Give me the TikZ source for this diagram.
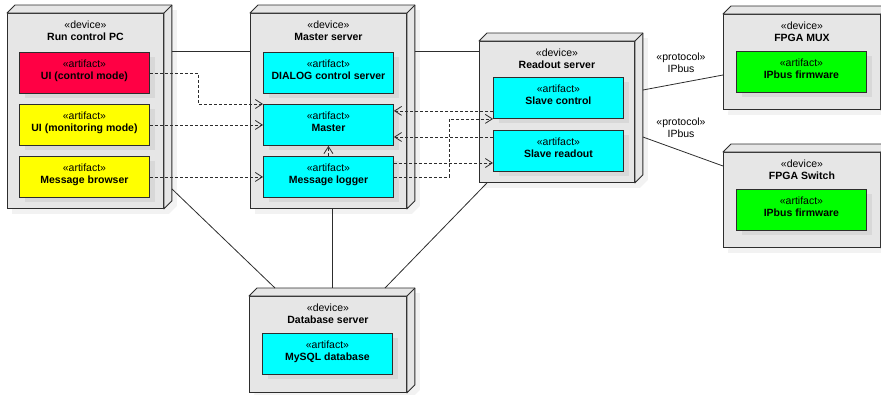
\documentclass[tikz,border=0pt]{standalone}
\usepackage{fontspec}
\setmainfont{Liberation Sans}
\usetikzlibrary{arrows.meta,calc,shadows}
\pgfdeclarelayer{background}
\pgfsetlayers{background,main}

\definecolor{devfill}{RGB}{230,230,230}
\definecolor{devshadow}{RGB}{242,242,242}
\definecolor{artshadow}{RGB}{216,216,216}
\definecolor{edge}{RGB}{45,45,45}
\definecolor{artred}{RGB}{255,0,68}
\definecolor{artyellow}{RGB}{255,255,0}
\definecolor{artcyan}{RGB}{0,255,255}
\definecolor{artgreen}{RGB}{0,255,0}

\tikzset{
  base/.style={font=\fontsize{10.5}{12}\selectfont},
  device/.style={draw=edge, fill=devfill, line width=0.9pt, minimum width=156pt,
    anchor=north west, inner sep=0pt},
  face/.style={draw=edge, fill=devfill, line width=0.9pt, line join=round},
  devtitle/.style={base, align=center, anchor=north, inner sep=0pt},
  artifact/.style={base, draw=edge, line width=0.9pt, minimum width=130pt,
    minimum height=41pt, anchor=north west, align=center, inner sep=0pt,
    text height=20pt, text depth=7pt,
    drop shadow={shadow xshift=6pt, shadow yshift=-5pt, opacity=1, fill=artshadow, draw=none}},
  dep/.style={draw=edge, line width=0.8pt, dash pattern=on 3pt off 2pt,
    -{Straight Barb[length=7pt,width=9pt]}},
  link/.style={draw=edge, line width=0.8pt},
  proto/.style={base, align=center, inner sep=0pt},
}

% 3D faces (top and right) of a device box
\newcommand\devfaces[1]{%
  \draw[face] (#1.north west) -- ++(8,-8) -| ($(#1.south east)+(8,-8)$)
    -- (#1.south east) -- (#1.north east) -- cycle;
  \draw[face] (#1.north east) -- ++(8,-8);
}

\begin{document}
\begin{tikzpicture}[x=1pt, y=-1pt]
\useasboundingbox (0,0) rectangle (881,394);

% ---------- devices ----------
\node[device, minimum height=195pt] (rc) at (7,13) {};
\devfaces{rc}
\node[devtitle] (rc-t) at ($(rc.north)+(0,8)$) {«device»\\\textbf{Run control PC}};

\node[device, minimum height=195pt] (ms) at (250,13) {};
\devfaces{ms}
\node[devtitle] (ms-t) at ($(ms.north)+(0,8)$) {«device»\\\textbf{Master server}};

\node[device, minimum height=141pt, minimum width=155pt] (rs) at (479,41) {};
\devfaces{rs}
\node[devtitle] (rs-t) at ($(rs.north)+(0,8)$) {«device»\\\textbf{Readout server}};

\node[device, minimum height=95pt, minimum width=157pt] (fm) at (723,14) {};
\devfaces{fm}
\node[devtitle] (fm-t) at ($(fm.north)+(0,8)$) {«device»\\\textbf{FPGA MUX}};

\node[device, minimum height=95pt, minimum width=157pt] (fs) at (723,152) {};
\devfaces{fs}
\node[devtitle] (fs-t) at ($(fs.north)+(0,8)$) {«device»\\\textbf{FPGA Switch}};

\node[device, minimum height=96pt, minimum width=157pt] (db) at (249,296) {};
\devfaces{db}
\node[devtitle] (db-t) at ($(db.north)+(0,8)$) {«device»\\\textbf{Database server}};

% device shadows
\begin{pgfonlayer}{background}
\foreach \n in {rc,ms,rs,fm,fs,db}{
  \fill[devshadow] ($(\n.north west)+(13,-3)$) -- ($(\n.north east)+(13,-3)$)
    -- ($(\n.south east)+(13,-3)$) -- ($(\n.south east)+(5,5)$)
    -- ($(\n.south west)+(5,5)$) -- cycle;
}
\end{pgfonlayer}

% ---------- artifacts ----------
\node[artifact, fill=artred]    (ui1) at (19,52)  {«artifact»\\\textbf{UI (control mode)}};
\node[artifact, fill=artyellow] (ui2) at (19,104) {«artifact»\\\textbf{UI (monitoring mode)}};
\node[artifact, fill=artyellow] (mb)  at (19,156) {«artifact»\\\textbf{Message browser}};

\node[artifact, fill=artcyan] (dialog) at (263,52)  {«artifact»\\\textbf{DIALOG control server}};
\node[artifact, fill=artcyan] (master) at (263,104) {«artifact»\\\textbf{Master}};
\node[artifact, fill=artcyan] (logger) at (263,156) {«artifact»\\\textbf{Message logger}};

\node[artifact, fill=artcyan] (slavec) at (493,77)  {«artifact»\\\textbf{Slave control}};
\node[artifact, fill=artcyan] (slaver) at (493,130) {«artifact»\\\textbf{Slave readout}};

\node[artifact, fill=artgreen] (fwm) at (736,51)  {«artifact»\\\textbf{IPbus firmware}};
\node[artifact, fill=artgreen] (fws) at (736,189) {«artifact»\\\textbf{IPbus firmware}};

\node[artifact, fill=artcyan] (mysql) at (262,333) {«artifact»\\\textbf{MySQL database}};

% ---------- communication paths ----------
\draw[link] ($(rc.north east)+(8,38)$) coordinate (l1) -- (l1 -| ms.west);
\draw[link] ($(ms.north east)+(8,38)$) coordinate (l2) -- (l2 -| rs.west);
\draw[link] ($(rs.north east)+(8,49)$) -- ($(fm.north west)+(0,61)$);
\draw[link] ($(rs.north east)+(8,96)$) -- ($(fs.north west)+(0,14)$);
\coordinate (dbtop) at ($(db.north west)+(8,-8)$);
\draw[link] ($(rc.south east)+(8,-20)$) -- ($(dbtop)+(18,0)$);
\draw[link] ($(ms.south)+(4,0)$) coordinate (l3) -- (l3 |- dbtop);
\draw[link] ($(rs.south west)+(8,0)$) -- ($(dbtop)+(128,0)$);

\node[proto] (p1) at (681,63)  {«protocol»\\IPbus};
\node[proto] (p2) at (681,128) {«protocol»\\IPbus};

% ---------- dependencies ----------
\draw[dep] (ui1.east) -- ++(48,0) |- (master.north west);
\draw[dep] (ui2.east) -- (master.west);
\draw[dep] (mb.east) -- (logger.west);
\draw[dep] (logger.north) -- (master.south);
\draw[dep] ($(slavec.south west)+(0,-8)$) coordinate (d1) -- (d1 -| master.east);
\draw[dep] ($(slaver.north west)+(0,7)$) coordinate (d2) -- (d2 -| master.east);
\draw[dep] (logger.east) -- ++(55,0) |- (slavec.south west);
\draw[dep] ($(logger.north east)+(0,7)$) coordinate (d3) -- (d3 -| slaver.west);
\end{tikzpicture}
\end{document}
